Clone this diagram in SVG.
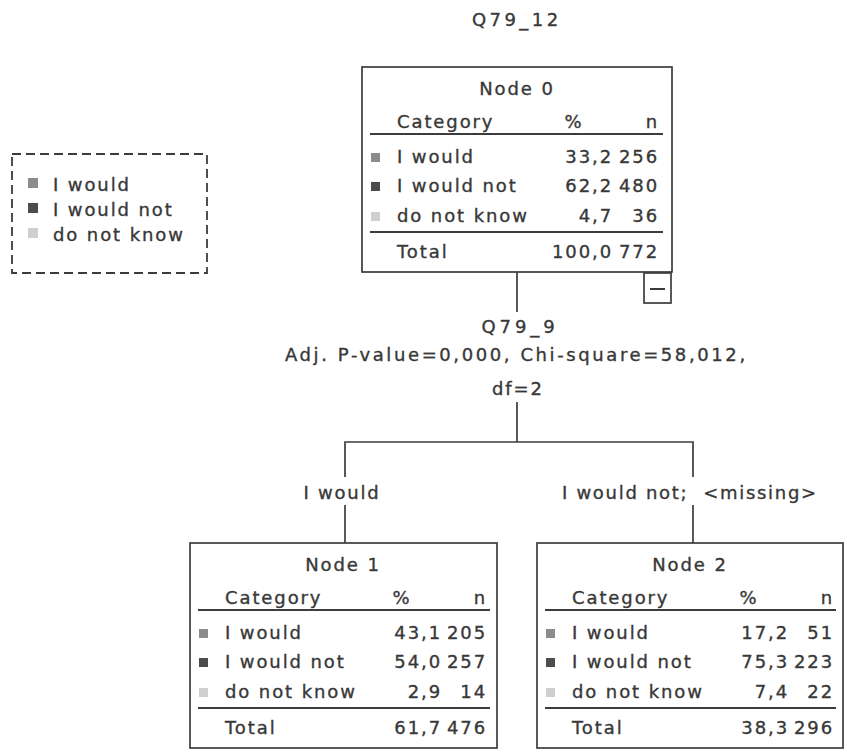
<svg xmlns="http://www.w3.org/2000/svg" width="847" height="753" viewBox="0 0 847 753">
<style>
text{font-family:"DejaVu Sans","Liberation Sans",sans-serif;font-size:18px;fill:#383838;stroke:#383838;stroke-width:0.35px;letter-spacing:1.9px}
.box{fill:#fff;stroke:#3c3c3c;stroke-width:1.7}
.rule{stroke:#3c3c3c;stroke-width:2}
.conn{stroke:#3c3c3c;stroke-width:1.7;fill:none}
.c1{fill:#8c8c8c}.c2{fill:#4d4d4d}.c3{fill:#cfcfcf}
.e{text-anchor:end}.m{text-anchor:middle}
</style>
<rect width="847" height="753" fill="#fff"/>
<text x="516" y="26" class="m" textLength="88" lengthAdjust="spacing">Q79_12</text>

<g id="legend">
<rect x="12" y="154" width="195" height="119" fill="none" stroke="#3c3c3c" stroke-width="1.8" stroke-dasharray="9,5"/>
<rect x="28" y="178" width="10" height="10" class="c1"/><text x="53" y="191">I would</text>
<rect x="28" y="203" width="10" height="10" class="c2"/><text x="53" y="216">I would not</text>
<rect x="28" y="228" width="10" height="10" class="c3"/><text x="53" y="241">do not know</text>
</g>

<g id="connectors">
<line x1="517" y1="272" x2="517" y2="312" class="conn"/>
<line x1="517" y1="402" x2="517" y2="442" class="conn"/>
<polyline points="345,477 345,442 693,442 693,477" class="conn"/>
<line x1="345" y1="505" x2="345" y2="543" class="conn"/>
<line x1="693" y1="505" x2="693" y2="543" class="conn"/>
<text x="519" y="333" class="m" textLength="75" lengthAdjust="spacing">Q79_9</text>
<text x="516" y="361" class="m" textLength="462" lengthAdjust="spacing">Adj. P-value=0,000, Chi-square=58,012,</text>
<text x="518" y="395" class="m">df=2</text>
<text x="342" y="499" class="m" textLength="77" lengthAdjust="spacing">I would</text>
<text x="562" y="499" xml:space="preserve" textLength="256" lengthAdjust="spacing">I would not;  &lt;missing&gt;</text>
</g>

<g id="node0" transform="translate(362,67)">
<rect x="0" y="0" width="310" height="205" class="box"/>
<text x="155" y="28" class="m">Node 0</text>
<text x="35" y="61">Category</text><text x="212" y="61" class="m">%</text><text x="297" y="61" class="e">n</text>
<line x1="8" y1="67" x2="301" y2="67" class="rule"/>
<rect x="9" y="86" width="9" height="9" class="c1"/><text x="35" y="96">I would</text><text x="251" y="96" class="e">33,2</text><text x="297" y="96" class="e">256</text>
<rect x="9" y="115" width="9" height="9" class="c2"/><text x="35" y="125">I would not</text><text x="251" y="125" class="e">62,2</text><text x="297" y="125" class="e">480</text>
<rect x="9" y="145" width="9" height="9" class="c3"/><text x="35" y="155">do not know</text><text x="251" y="155" class="e">4,7</text><text x="297" y="155" class="e">36</text>
<line x1="8" y1="165" x2="301" y2="165" class="rule"/>
<text x="35" y="191">Total</text><text x="251" y="191" class="e">100,0</text><text x="297" y="191" class="e">772</text>
<rect x="282" y="206" width="27" height="30" class="box"/>
<line x1="288" y1="222" x2="303" y2="222" class="rule"/>
</g>

<g id="node1" transform="translate(190,543)">
<rect x="0" y="0" width="307" height="205" class="box"/>
<text x="153" y="28" class="m">Node 1</text>
<text x="35" y="61">Category</text><text x="212" y="61" class="m">%</text><text x="297" y="61" class="e">n</text>
<line x1="8" y1="67" x2="300" y2="67" class="rule"/>
<rect x="9" y="86" width="9" height="9" class="c1"/><text x="35" y="96">I would</text><text x="252" y="96" class="e">43,1</text><text x="297" y="96" class="e">205</text>
<rect x="9" y="115" width="9" height="9" class="c2"/><text x="35" y="125">I would not</text><text x="252" y="125" class="e">54,0</text><text x="297" y="125" class="e">257</text>
<rect x="9" y="145" width="9" height="9" class="c3"/><text x="35" y="155">do not know</text><text x="252" y="155" class="e">2,9</text><text x="297" y="155" class="e">14</text>
<line x1="8" y1="165" x2="300" y2="165" class="rule"/>
<text x="35" y="191">Total</text><text x="252" y="191" class="e">61,7</text><text x="297" y="191" class="e">476</text>
</g>

<g id="node2" transform="translate(537,543)">
<rect x="0" y="0" width="306" height="205" class="box"/>
<text x="153" y="28" class="m">Node 2</text>
<text x="35" y="61">Category</text><text x="212" y="61" class="m">%</text><text x="297" y="61" class="e">n</text>
<line x1="8" y1="67" x2="299" y2="67" class="rule"/>
<rect x="9" y="86" width="9" height="9" class="c1"/><text x="35" y="96">I would</text><text x="252" y="96" class="e">17,2</text><text x="297" y="96" class="e">51</text>
<rect x="9" y="115" width="9" height="9" class="c2"/><text x="35" y="125">I would not</text><text x="252" y="125" class="e">75,3</text><text x="297" y="125" class="e">223</text>
<rect x="9" y="145" width="9" height="9" class="c3"/><text x="35" y="155">do not know</text><text x="252" y="155" class="e">7,4</text><text x="297" y="155" class="e">22</text>
<line x1="8" y1="165" x2="299" y2="165" class="rule"/>
<text x="35" y="191">Total</text><text x="252" y="191" class="e">38,3</text><text x="297" y="191" class="e">296</text>
</g>
</svg>
